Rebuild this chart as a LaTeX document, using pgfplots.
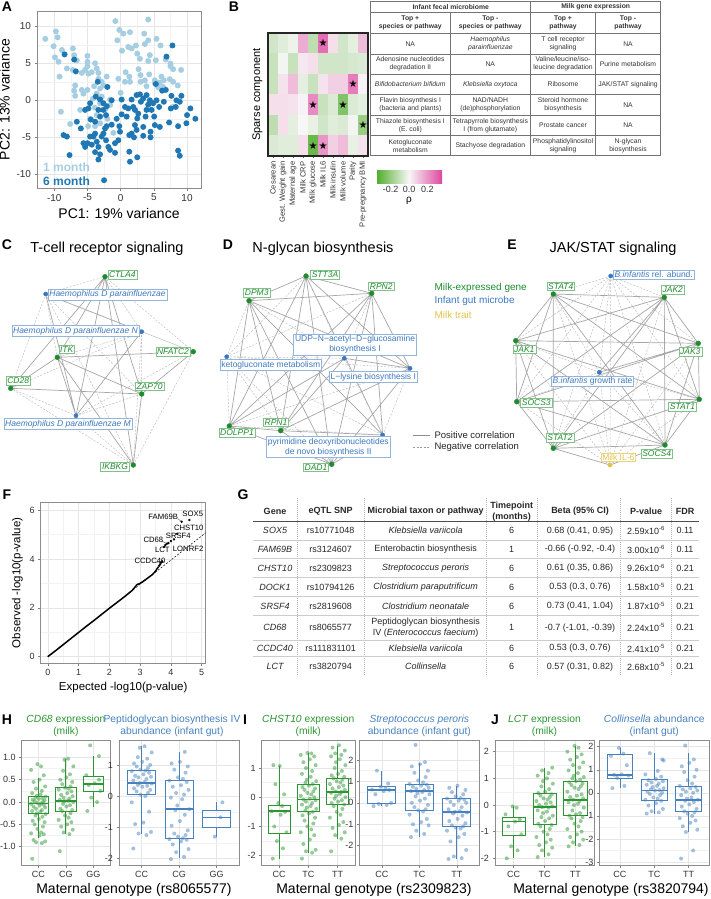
\documentclass[border=0pt]{standalone}
\usepackage{pgfplots}
\pgfplotsset{compat=1.18}
\usepgfplotslibrary{statistics}
\usetikzlibrary{calc}
\usepackage{fontspec}
\setmainfont{Liberation Sans}
\newfontfamily\dejavu{DejaVu Sans}
\pgfkeys{/pgf/number format/assume math mode=true}
\newcommand{\fs}[1]{\fontsize{#1}{\fpeval{1.2*#1}}\selectfont}
\definecolor{lb}{RGB}{166,206,227}
\definecolor{db}{RGB}{31,120,180}
\definecolor{gr}{RGB}{45,150,50}
\definecolor{bl}{RGB}{72,130,190}
\definecolor{yl}{RGB}{225,195,70}
\definecolor{ng}{RGB}{30,140,45}
\definecolor{nb}{RGB}{60,120,190}
\pgfplotsset{
  gg/.style={scale only axis, axis line style={black!45, line width=0.6pt}, tick align=outside, tick pos=left,
    major tick length=2.5pt, minor tick length=0pt, tick style={black!50, line width=0.5pt},
    major grid style={black!10, line width=0.5pt}, minor grid style={black!5, line width=0.4pt},
    ticklabel style={font=\fs{9}, text=black!80}, label style={font=\fs{14}}},
  ggbox/.style={solid, line width=0.8pt, boxplot/draw direction=y, boxplot/box extend=0.75, boxplot/whisker extend=0, boxplot/every median/.style={line width=1.6pt}},
  gpts/.style={only marks, mark=*, mark size=2pt, color=gr, mark options={solid, draw=gr, draw opacity=0, fill=gr, fill opacity=0.5}},
  bpts/.style={only marks, mark=*, mark size=2pt, color=bl, mark options={solid, draw=bl, draw opacity=0, fill=bl, fill opacity=0.5}},
  onedec/.style={yticklabel style={/pgf/number format/fixed, /pgf/number format/fixed zerofill, /pgf/number format/precision=1}},
}
\newcommand{\glab}[3]{\node[draw=ng!55, fill=white, text=ng, font=\itshape\fs{8.5}, inner sep=1.3pt, line width=0.5pt] at (#1,#2) {#3};}
\newcommand{\blab}[3]{\node[draw=nb!55, fill=white, text=nb, font=\fs{8.5}, inner sep=1.3pt, line width=0.5pt, align=center] at (#1,#2) {#3};}
\newcommand{\grow}[8]{%
 \node[font=\itshape\fs{9}] at (275,#1) {#2};
 \node[font=\fs{9}] at (330.7,#1) {#3};
 \node[font=\fs{9}, align=center] at (425.7,#1) {#4};
 \node[font=\fs{9}] at (511.7,#1) {#5};
 \node[font=\fs{9}] at (580,#1) {#6};
 \node[font=\fs{9}] at (646,#1) {#7};
 \node[font=\fs{9}] at (685,#1) {#8};}
\newcommand{\brow}[5]{%
 \node[font=\fs{6.8}, align=center] at (410.3,#1) {#2};
 \node[font=\fs{6.8}, align=center] at (490.3,#1) {#3};
 \node[font=\fs{6.8}, align=center] at (563,#1) {#4};
 \node[font=\fs{6.8}, align=center] at (628,#1) {#5};}
\begin{document}
\begin{tikzpicture}
\useasboundingbox (0,0) rectangle (710pt,-899pt);

% ================= canvas axis for networks =================
\begin{axis}[at={(0pt,0pt)}, anchor=north west, width=710pt, height=899pt, scale only axis,
  xmin=0, xmax=710, ymin=0, ymax=899, y dir=reverse, hide axis, clip=false]
% C solid
\addplot[black!35, line width=0.7pt, unbounded coords=jump] coordinates {
(105,276.7) (57.3,357.3) (nan,nan) (105,276.7) (10.7,388.3) (nan,nan) (105,276.7) (141.7,394) (nan,nan)
(105,276.7) (76,415.7) (nan,nan) (45.7,294) (141.7,331.7) (nan,nan) (45.7,294) (76,415.7) (nan,nan)
(141.7,331.7) (76,415.7) (nan,nan) (57.3,357.3) (10.7,388.3) (nan,nan) (57.3,357.3) (141.7,394) (nan,nan)
(10.7,388.3) (141.7,394) (nan,nan) (57.3,357.3) (193.3,351.7) (nan,nan) (193.3,351.7) (141.7,394) (nan,nan)
(57.3,357.3) (76,415.7) (nan,nan) (57.3,357.3) (133.3,465) (nan,nan) (141.7,394) (133.3,465) (nan,nan)
(105,276.7) (133.3,465)};
% C dashed
\addplot[black!25, line width=0.5pt, dash pattern=on 2pt off 1.5pt, unbounded coords=jump] coordinates {
(45.7,294) (57.3,357.3) (nan,nan) (45.7,294) (193.3,351.7) (nan,nan) (45.7,294) (10.7,388.3) (nan,nan)
(45.7,294) (141.7,394) (nan,nan) (141.7,331.7) (57.3,357.3) (nan,nan) (141.7,331.7) (10.7,388.3) (nan,nan)
(141.7,331.7) (193.3,351.7) (nan,nan) (141.7,331.7) (133.3,465) (nan,nan) (76,415.7) (193.3,351.7) (nan,nan)
(76,415.7) (133.3,465) (nan,nan) (76,415.7) (10.7,388.3) (nan,nan) (76,415.7) (141.7,394) (nan,nan)
(105,276.7) (193.3,351.7) (nan,nan) (105,276.7) (141.7,331.7) (nan,nan) (105,276.7) (45.7,294) (nan,nan)
(45.7,294) (133.3,465) (nan,nan) (10.7,388.3) (133.3,465) (nan,nan) (193.3,351.7) (133.3,465) (nan,nan)
(141.7,331.7) (141.7,394)};
% D solid
\addplot[black!35, line width=0.7pt, unbounded coords=jump] coordinates {
(306,276) (371.7,293.3) (nan,nan) (306,276) (249,300.7) (nan,nan) (306,276) (280.7,430.7) (nan,nan)
(306,276) (229.3,426) (nan,nan) (306,276) (331.7,464.3) (nan,nan) (306,276) (410,368.3) (nan,nan)
(306,276) (382.7,435) (nan,nan) (371.7,293.3) (249,300.7) (nan,nan) (371.7,293.3) (280.7,430.7) (nan,nan)
(371.7,293.3) (229.3,426) (nan,nan) (371.7,293.3) (331.7,464.3) (nan,nan) (371.7,293.3) (382.7,435) (nan,nan)
(371.7,293.3) (410,368.3) (nan,nan) (249,300.7) (280.7,430.7) (nan,nan) (249,300.7) (229.3,426) (nan,nan)
(249,300.7) (331.7,464.3) (nan,nan) (249,300.7) (410,368.3) (nan,nan) (249,300.7) (382.7,435) (nan,nan)
(280.7,430.7) (331.7,464.3) (nan,nan) (280.7,430.7) (229.3,426) (nan,nan) (229.3,426) (331.7,464.3) (nan,nan)
(344.3,358.3) (410,368.3) (nan,nan) (344.3,358.3) (280.7,430.7) (nan,nan) (344.3,358.3) (229.3,426) (nan,nan)
(410,368.3) (331.7,464.3) (nan,nan) (382.7,435) (331.7,464.3) (nan,nan) (280.7,430.7) (382.7,435) (nan,nan)
(410,368.3) (280.7,430.7)};
% D dashed
\addplot[black!25, line width=0.5pt, dash pattern=on 2pt off 1.5pt, unbounded coords=jump] coordinates {
(226.7,356.7) (306,276) (nan,nan) (226.7,356.7) (371.7,293.3) (nan,nan) (226.7,356.7) (249,300.7) (nan,nan)
(226.7,356.7) (410,368.3) (nan,nan) (226.7,356.7) (344.3,358.3) (nan,nan) (226.7,356.7) (382.7,435) (nan,nan)
(226.7,356.7) (331.7,464.3) (nan,nan) (226.7,356.7) (280.7,430.7) (nan,nan) (344.3,358.3) (306,276) (nan,nan)
(344.3,358.3) (371.7,293.3) (nan,nan) (344.3,358.3) (249,300.7) (nan,nan) (382.7,435) (344.3,358.3) (nan,nan)
(410,368.3) (382.7,435) (nan,nan) (229.3,426) (410,368.3) (nan,nan) (229.3,426) (382.7,435) (nan,nan)
(226.7,356.7) (229.3,426)};
% E solid
\addplot[black!35, line width=0.7pt, unbounded coords=jump] coordinates {
(553.3,294) (664.3,297.3) (nan,nan) (553.3,294) (515.7,340.7) (nan,nan) (553.3,294) (698.3,343.3) (nan,nan)
(553.3,294) (516.7,401.7) (nan,nan) (553.3,294) (699.3,399.3) (nan,nan) (553.3,294) (553.3,448.3) (nan,nan)
(553.3,294) (665,445) (nan,nan) (664.3,297.3) (515.7,340.7) (nan,nan) (664.3,297.3) (698.3,343.3) (nan,nan)
(664.3,297.3) (516.7,401.7) (nan,nan) (664.3,297.3) (699.3,399.3) (nan,nan) (664.3,297.3) (553.3,448.3) (nan,nan)
(664.3,297.3) (665,445) (nan,nan) (515.7,340.7) (698.3,343.3) (nan,nan) (515.7,340.7) (516.7,401.7) (nan,nan)
(515.7,340.7) (699.3,399.3) (nan,nan) (515.7,340.7) (553.3,448.3) (nan,nan) (515.7,340.7) (665,445) (nan,nan)
(698.3,343.3) (516.7,401.7) (nan,nan) (698.3,343.3) (699.3,399.3) (nan,nan) (698.3,343.3) (553.3,448.3) (nan,nan)
(698.3,343.3) (665,445) (nan,nan) (516.7,401.7) (699.3,399.3) (nan,nan) (516.7,401.7) (553.3,448.3) (nan,nan)
(516.7,401.7) (665,445) (nan,nan) (699.3,399.3) (553.3,448.3) (nan,nan) (699.3,399.3) (665,445) (nan,nan)
(553.3,448.3) (665,445) (nan,nan) (599.3,372.3) (664.3,297.3) (nan,nan) (599.3,372.3) (698.3,343.3) (nan,nan)
(610,465) (553.3,448.3) (nan,nan) (610,465) (665,445)};
% E dashed
\addplot[black!25, line width=0.5pt, dash pattern=on 2pt off 1.5pt, unbounded coords=jump] coordinates {
(610.7,276) (553.3,294) (nan,nan) (610.7,276) (664.3,297.3) (nan,nan) (610.7,276) (515.7,340.7) (nan,nan)
(610.7,276) (698.3,343.3) (nan,nan) (610.7,276) (516.7,401.7) (nan,nan) (610.7,276) (699.3,399.3) (nan,nan)
(610.7,276) (553.3,448.3) (nan,nan) (610.7,276) (665,445) (nan,nan) (610.7,276) (599.3,372.3) (nan,nan)
(610.7,276) (610,465) (nan,nan) (599.3,372.3) (553.3,294) (nan,nan) (599.3,372.3) (515.7,340.7) (nan,nan)
(599.3,372.3) (516.7,401.7) (nan,nan) (599.3,372.3) (699.3,399.3) (nan,nan) (599.3,372.3) (553.3,448.3) (nan,nan)
(599.3,372.3) (665,445) (nan,nan) (599.3,372.3) (610,465) (nan,nan) (610,465) (553.3,294) (nan,nan)
(610,465) (664.3,297.3) (nan,nan) (610,465) (515.7,340.7) (nan,nan) (610,465) (698.3,343.3) (nan,nan)
(610,465) (516.7,401.7) (nan,nan) (610,465) (699.3,399.3)};
% legend lines
\addplot[black!45, line width=0.7pt] coordinates {(413,435) (430,435)};
\addplot[black!40, line width=0.5pt, dash pattern=on 2pt off 1.5pt] coordinates {(413,447.5) (430,447.5)};
% nodes
\addplot[only marks, mark=*, mark size=2.4pt, ng] coordinates {
(105,276.7) (57.3,357.3) (193.3,351.7) (10.7,388.3) (141.7,394) (133.3,465)
(306,276) (371.7,293.3) (249,300.7) (280.7,430.7) (229.3,426) (331.7,464.3)
(553.3,294) (664.3,297.3) (515.7,340.7) (698.3,343.3) (516.7,401.7) (699.3,399.3) (553.3,448.3) (665,445)};
\addplot[only marks, mark=*, mark size=2.1pt, nb] coordinates {
(45.7,294) (141.7,331.7) (76,415.7) (344.3,358.3) (410,368.3) (226.7,356.7) (382.7,435) (610.7,276) (599.3,372.3)};
\addplot[only marks, mark=*, mark size=2.1pt, yl] coordinates {(610,465)};
\end{axis}

% ================= plain text layer =================
\begin{scope}[x=1pt, y=-1pt]
% panel letters
\foreach \l/\px/\py in {A/7/7, B/234/7, C/7/245, D/228/245, E/512/245, F/7/495, G/243/495, H/7/720, I/245/720, J/495/720}
  \node[font=\bfseries\fs{14}] at (\px,\py) {\l};
% network titles
\node[font=\fs{14.5}] at (107,249) {T-cell receptor signaling};
\node[font=\fs{14.5}] at (323,249) {N-glycan biosynthesis};
\node[font=\fs{14.5}] at (613,249) {JAK/STAT signaling};
% network labels C
\glab{122.3}{274.7}{CTLA4}
\blab{107.5}{294.7}{\itshape Haemophilus D parainfluenzae}
\blab{75.5}{330.8}{\itshape Haemophilus D parainfluenzae N}
\glab{66.7}{349.3}{ITK}
\glab{173}{352}{NFATC2}
\glab{18.2}{380.7}{CD28}
\glab{149.5}{386.2}{ZAP70}
\blab{68}{424}{\itshape Haemophilus D parainfluenzae M}
\glab{115}{466.7}{IKBKG}
% D
\glab{325}{274.5}{STT3A}
\glab{381.2}{286.2}{RPN2}
\glab{256.7}{293}{DPM3}
\blab{355}{344.5}{UDP−N−acetyl−D−glucosamine\\biosynthesis I}
\blab{270.8}{365}{ketogluconate metabolism}
\blab{373.3}{377}{L−lysine biosynthesis I}
\glab{276}{422.5}{RPN1}
\glab{237}{433}{DOLPP1}
\blab{328.3}{447}{pyrimidine deoxyribonucleotides\\de novo biosynthesis II}
\glab{316}{467.2}{DAD1}
% E
\blab{653.7}{274.5}{\itshape B.infantis\upshape{} rel. abund.}
\glab{560.7}{286.2}{STAT4}
\glab{672.8}{289.8}{JAK2}
\glab{524.3}{349.2}{JAK1}
\glab{690.3}{352}{JAK3}
\blab{592.5}{381.2}{\itshape B.infantis\upshape{} growth rate}
\glab{536.3}{402.8}{SOCS3}
\glab{682.5}{406.8}{STAT1}
\glab{560}{437.5}{STAT2}
\glab{656.7}{453.8}{SOCS4}
\node[draw=yl!70, fill=white, text=yl, font=\fs{8.5}, inner sep=1.3pt, line width=0.5pt] at (618.3,457.2) {Milk IL-6};
% network legend
\node[anchor=west, text=ng, font=\fs{10}] at (431,287.7) {Milk-expressed gene};
\node[anchor=west, text=nb, font=\fs{10}] at (431,301) {Infant gut microbe};
\node[anchor=west, text=yl, font=\fs{10}] at (431,315) {Milk trait};
\node[anchor=west, font=\fs{9.5}, text=black!85] at (431,435) {Positive correlation};
\node[anchor=west, font=\fs{9.5}, text=black!85] at (431,447.5) {Negative correlation};

% ---------- table B ----------
\begin{scope}[black!55, line width=0.5pt]
\draw (370.7,1.7) rectangle (660.7,155.7);
\draw (370.7,12.3) -- (660.7,12.3);
\foreach \yy in {33.3,54,74,94.7,115.3,135.7} \draw (370.7,\yy) -- (660.7,\yy);
\draw (450,12.3) -- (450,155.7);
\draw (530.7,1.7) -- (530.7,155.7);
\draw (595.3,12.3) -- (595.3,155.7);
\end{scope}
\begin{scope}[text=black!80]
\node[font=\bfseries\fs{6.8}] at (450.7,7) {Infant fecal microbiome};
\node[font=\bfseries\fs{6.8}] at (595.7,7) {Milk gene expression};
\brow{22.8}{\bfseries Top +\\\bfseries species or pathway}{\bfseries Top -\\\bfseries species or pathway}{\bfseries Top +\\\bfseries pathway}{\bfseries Top -\\\bfseries pathway}
\brow{43.7}{NA}{\itshape Haemophilus\\\itshape parainfluenzae}{T cell receptor\\signaling}{NA}
\brow{64}{Adenosine nucleotides\\degradation II}{NA}{Valine/leucine/iso-\\leucine degradation}{Purine metabolism}
\brow{84.3}{\itshape Bifidobacterium bifidum}{\itshape Klebsiella oxytoca}{Ribosome}{JAK/STAT signaling}
\brow{105}{Flavin biosynthesis I\\(bacteria and plants)}{NAD/NADH\\(de)phosphorylation}{Steroid hormone\\biosynthesis}{NA}
\brow{125.5}{Thiazole biosynthesis I\\(E. coli)}{Tetrapyrrole biosynthesis\\I (from glutamate)}{Prostate cancer}{NA}
\brow{145.7}{Ketogluconate\\metabolism}{Stachyose degradation}{Phosphatidylinositol\\signaling}{N-glycan\\biosynthesis}
\end{scope}

% ---------- table G ----------
\foreach \xx in {297.3,364.3,486.7,537.7,620,671.7}
  \draw[black!30, line width=0.5pt, dash pattern=on 1pt off 1pt] (\xx,498) -- (\xx,676);
\foreach \yy in {540,558.3,577.3,596,615.7,640,656.7}
  \draw[black!20, line width=0.5pt] (253.3,\yy) -- (699.3,\yy);
\draw[black!70, line width=0.8pt] (253.3,521) -- (699.3,521);
\begin{scope}[text=black!85]
\node[font=\bfseries\fs{9}] at (275,511) {Gene};
\node[font=\bfseries\fs{9}] at (330.7,511) {eQTL SNP};
\node[font=\bfseries\fs{9}] at (425.7,511) {Microbial taxon or pathway};
\node[font=\bfseries\fs{9}, align=center, inner sep=0pt] at (511.7,511.5) {Timepoint\\(months)};
\node[font=\bfseries\fs{9}] at (580,511) {Beta (95\% CI)};
\node[font=\bfseries\fs{9}] at (646,511) {P-value};
\node[font=\bfseries\fs{9}] at (685,511) {FDR};
\grow{530.7}{SOX5}{rs10771048}{\itshape Klebsiella variicola}{6}{0.68 (0.41, 0.95)}{2.59x10\textsuperscript{-6}}{0.11}
\grow{549.2}{FAM69B}{rs3124607}{Enterobactin biosynthesis}{1}{-0.66 (-0.92, -0.4)}{3.00x10\textsuperscript{-6}}{0.11}
\grow{568}{CHST10}{rs2309823}{\itshape Streptococcus peroris}{6}{0.61 (0.35, 0.86)}{9.26x10\textsuperscript{-6}}{0.21}
\grow{587}{DOCK1}{rs10794126}{\itshape Clostridium paraputrificum}{6}{0.53 (0.3, 0.76)}{1.58x10\textsuperscript{-5}}{0.21}
\grow{606}{SRSF4}{rs2819608}{\itshape Clostridium neonatale}{6}{0.73 (0.41, 1.04)}{1.87x10\textsuperscript{-5}}{0.21}
\grow{627.7}{CD68}{rs8065577}{Peptidoglycan biosynthesis\\IV (\textit{Enterococcus faecium})}{1}{-0.7 (-1.01, -0.39)}{2.24x10\textsuperscript{-5}}{0.21}
\grow{648.3}{CCDC40}{rs111831101}{\itshape Klebsiella variicola}{6}{0.53 (0.3, 0.76)}{2.41x10\textsuperscript{-5}}{0.21}
\grow{666.7}{LCT}{rs3820794}{\itshape Collinsella}{6}{0.57 (0.31, 0.82)}{2.68x10\textsuperscript{-5}}{0.21}
\end{scope}

% ---------- H I J titles ----------
\node[text=gr, font=\fs{10.3}, align=center] at (65.9,726) {\textit{CD68} expression\\(milk)};
\node[text=bl, font=\fs{10.3}, align=center] at (172,726) {Peptidoglycan biosynthesis IV\\abundance (infant gut)};
\node[text=gr, font=\fs{10.3}, align=center] at (308.3,726) {\textit{CHST10} expression\\(milk)};
\node[text=bl, font=\fs{10.3}, align=center] at (419.3,726) {\textit{Streptococcus peroris}\\abundance (infant gut)};
\node[text=gr, font=\fs{10.3}, align=center] at (544.5,726) {\textit{LCT} expression\\(milk)};
\node[text=bl, font=\fs{10.3}, align=center] at (654.3,726) {\textit{Collinsella} abundance\\(infant gut)};
\node[font=\fs{14}] at (134,890) {Maternal genotype (rs8065577)};
\node[font=\fs{14}] at (374,890) {Maternal genotype (rs2309823)};
\node[font=\fs{14}] at (611,890) {Maternal genotype (rs3820794)};
\end{scope}

% ================= Panel A =================
\begin{axis}[gg, at={(37pt,-188pt)}, anchor=south west, width=164pt, height=177pt,
  xmin=-12.6, xmax=12.1, ymin=-11.85, ymax=12.06,
  xtick={-10,-5,0,5,10}, ytick={-10,-5,0,5,10}, minor tick num=1, grid=both,
  ticklabel style={font=\fs{10}},
  xlabel={PC1: 19\% variance}, ylabel={PC2: 13\% variance}]
\addplot[only marks, mark=*, mark size=3pt, color=lb, mark options={solid, draw=lb, draw opacity=0, fill=lb}] coordinates {
(-11.35,8.3) (-9.75,9.3) (-9.5,8.5) (-10.1,7.3) (-8.85,6.8) (-9.9,5.8) (-9.35,5.2) (-9.2,3.2) (-8.1,4.3)
(-7.2,7.0) (-7.0,6.1) (-7.2,4.1) (-6.6,5.4) (-5.85,3.7) (-5,6) (-5,5.2) (-5,4.6) (-5.35,4.1) (-4.85,3.6)
(-3.85,5) (-3.6,4.3) (-4.35,3.8) (-3.35,3.7) (-3.35,2.9) (-2.1,3.2) (-2.85,2.5) (-2.6,2.0) (-6.85,2.0)
(-7.0,1.3) (-6.85,0.6) (-5.85,1.4) (-5.0,1.4) (-5.6,0.9) (-4,1.9) (-3.6,0.9) (-3.1,1.6) (-2.85,0.5)
(-1.6,0.1) (-1.6,-0.65) (-3.1,-0.4) (-3.6,-2.0) (-4.6,-2.5) (-3.1,-3.1) (-7.6,-3.2) (-9.0,-1.55)
(-6.1,-1.3) (-3.85,-3.5) (-1.1,-4.4) (-0.8,10.7) (-0.5,8.1) (-0.2,9.5) (0.4,9.0) (1.4,9.2) (0.2,6.7)
(1.15,7.2) (1.65,7.0) (2.3,7.4) (3.65,7.6) (2.5,6.3) (2.9,5.6) (4.4,6.1) (4.15,5.3) (2.7,4.2) (0.75,3.8)
(1.3,3.2) (1.4,2.5) (0.65,2.5) (0,1.0) (3.55,9.0) (4.15,10.9) (4.15,8.1) (5.4,8.3) (3.65,2.7) (3.0,2.5)
(4.3,3.5) (5.15,2.3) (3.9,1.9) (5.9,2.4) (6.4,1.8) (5.65,1.75) (7.5,4.6) (6.8,5.5) (7.5,4.95) (7.9,4.2)
(6.15,3.2) (6.5,2.7) (7.4,2.85) (7.9,2.5) (7.9,-0.9) (5.15,2.7) (3.0,3.4) (-0.35,2.9) (-2.3,-1.2)
(-3.9,-1.0) (-4.2,0.2) (-2.0,-2.5) (-4.9,-3.5) (8.6,2.0) (9.1,4.1) (6.0,7.4) (5.3,5.4)};
\addplot[only marks, mark=*, mark size=3pt, color=db, mark options={solid, draw=db, draw opacity=0, fill=db}] coordinates {
(-8.45,6.2) (-7.0,5.5) (-6.75,3.9) (-3.45,2.5) (-2.0,1.8) (-3.75,0.5) (-3.1,0.1) (-2.6,-0.4) (-2.1,-0.8)
(-1.35,0.0) (-4.6,-0.4) (-4.85,-1.1) (-5.35,-1.3) (-6.6,-2.9) (-6.0,-3.8) (-8.6,-4.7) (-8.1,-4.9)
(-7.7,-7.4) (-5.6,-5.8) (-5.35,-6.3) (-5.0,-5.8) (-4.6,-4.9) (-4.35,-6.0) (-3.85,-4.5) (-3.6,-5.6)
(-4.1,-4.9) (-3.35,-6.3) (-3.1,-7.3) (-3.35,-8.0) (-3.85,-7.0) (-2.85,-4.9) (-2.6,-4.5) (-2.35,-3.8)
(-2.2,-5.4) (-1.85,-6.3) (-1.6,-6.7) (-0.85,-7.1) (-0.85,-5.8) (-0.35,-5.4) (-1.35,-3.3) (-2.1,-3.5)
(-0.6,-2.5) (-0.2,-3.5) (-3.85,-2.9) (-4.5,-2.6) (-2.6,-1.3) (-2.2,-2.0) (-3.35,-1.3) (-3.1,-2.2)
(-2.5,-10.8) (0.15,0.1) (0.65,-0.9) (1.15,-1.1) (1.65,0.1) (2.15,-1.3) (2.4,0.7) (2.9,0.8) (3.4,0.25)
(3.9,0.7) (3.05,-0.2) (4.4,0.0) (4.9,-0.4) (5.4,0.0) (5.8,-0.9) (6.5,-0.2) (6.25,1.3) (5.3,2.2) (6.8,1.4)
(7.65,0.6) (7.55,-1.1) (8.3,-0.9) (8.9,-0.2) (9.15,0.6) (8.4,0.0) (7.8,7.4) (6.9,5.9) (7.3,-3.0)
(8.65,-3.5) (8.65,-6.8) (8.9,-7.5) (10.0,-2.0) (10.5,-1.1) (9.9,-3.1) (11.25,-2.5) (5.9,-3.6) (5.15,-3.35)
(4.5,-4.25) (4.5,-5.0) (3.4,-4.8) (3.4,-3.6) (3.75,-2.2) (2.5,-2.45) (2.15,-3.35) (1.65,-4.5) (1.3,-4.7)
(2.0,-5.0) (2.4,-4.0) (1.3,-6.95) (2.5,-7.7) (1.4,-8.3) (0.9,-2.2) (0.15,-1.9) (4.15,-0.6) (4.65,-1.3)
(5.05,-2.2) (3.9,-1.3) (1.9,-0.9) (2.65,-1.8) (-0.1,-4.25)};
\node[anchor=west, text=lb, font=\bfseries\fs{12}] at (axis cs:-12.2,-9.1) {1 month};
\node[anchor=west, text=db, font=\bfseries\fs{12}] at (axis cs:-12.2,-10.9) {6 month};
\end{axis}

% ================= Panel B heatmap =================
\begin{axis}[scale only axis, at={(268pt,-156pt)}, anchor=south west, width=100pt, height=123pt,
  xmin=-0.5, xmax=9.5, ymin=-0.5, ymax=5.5, y dir=reverse, enlargelimits=false,
  axis line style={black!85, line width=1.3pt}, axis on top,
  xtick={0,...,9}, xticklabels={Cesarean, Gest. Weight gain, Maternal age, Milk CRP, Milk glucose, Milk IL6, Milk insulin, Milk volume, Parity, Pre-pregnancy BMI},
  x tick label style={rotate=90, anchor=east, font=\fs{7.6}, text=black!80},
  ytick=\empty, tick align=outside, tick pos=left, major tick length=2pt, tick style={black!60, line width=0.5pt},
  ylabel={Sparse component}, ylabel style={font=\fs{11}},
  colormap={pg}{rgb255=(77,172,38) rgb255=(247,247,247) rgb255=(222,70,160)},
  point meta min=-0.36, point meta max=0.36,
  colorbar horizontal,
  colorbar style={at={($(parent axis.south east)+(8pt,-5.5pt)$)}, anchor=north west, width=66pt, height=13pt, scale only axis,
    xtick={-0.2,0,0.2}, xticklabel style={font=\fs{9}, text=black!80, /pgf/number format/fixed, /pgf/number format/fixed zerofill, /pgf/number format/precision=1},
    xlabel={ρ}, xlabel style={font=\fs{10}, yshift=3pt}, axis line style={draw=none}, xtick style={draw=none}}]
\addplot[matrix plot*, mesh/cols=10, point meta=explicit] table[meta=c] {
x y c
0 0 -0.08
1 0 -0.05
2 0 -0.02
3 0 0.15
4 0 -0.12
5 0 0.28
6 0 0.05
7 0 -0.08
8 0 -0.04
9 0 0.12
0 1 -0.10
1 1 -0.01
2 1 -0.10
3 1 0.03
4 1 0.05
5 1 -0.08
6 1 -0.08
7 1 -0.08
8 1 -0.07
9 1 -0.06
0 2 -0.10
1 2 0.04
2 2 0.12
3 2 -0.04
4 2 -0.10
5 2 0.04
6 2 0.08
7 2 0.08
8 2 0.25
9 2 0.01
0 3 0.05
1 3 0.05
2 3 0.04
3 3 0.01
4 3 0.22
5 3 -0.10
6 3 -0.06
7 3 -0.25
8 3 -0.06
9 3 -0.04
0 4 -0.12
1 4 0.05
2 4 -0.04
3 4 0.00
4 4 -0.03
5 4 -0.08
6 4 -0.05
7 4 -0.06
8 4 -0.01
9 4 -0.20
0 5 -0.06
1 5 -0.05
2 5 -0.05
3 5 0.05
4 5 -0.30
5 5 0.20
6 5 0.08
7 5 0.12
8 5 -0.03
9 5 0.04
};
\addplot[only marks, mark=none, nodes near coords={\dejavu ★}, nodes near coords align=center,
  every node near coord/.style={font=\fs{10}, anchor=center, text=black}] coordinates {
(5,0) (8,2) (4,3) (7,3) (9,4) (4,5) (5,5)};
\end{axis}

% ================= Panel F =================
\begin{axis}[gg, at={(40.7pt,-663pt)}, anchor=south west, width=165pt, height=160.3pt,
  xmin=-0.23, xmax=5.13, ymin=-0.26, ymax=6.3, xtick={0,...,5}, ytick={0,2,4,6},
  minor tick num=1, grid=both, label style={font=\fs{11.5}},
  xlabel={Expected -log10(p-value)}, ylabel={Observed -log10(p-value)}]
\addplot[black, line width=0.5pt, dash pattern=on 2pt off 1.5pt] coordinates {(0,0) (5.13,5.07)};
\addplot[black, line width=1.5pt] coordinates {
(0,0) (0.25,0.24) (0.5,0.49) (0.75,0.74) (1,0.99) (1.25,1.24) (1.5,1.48) (1.75,1.73) (2,1.98)
(2.25,2.22) (2.5,2.46) (2.75,2.72) (2.9,2.95) (3,3.0) (3.1,3.08) (3.25,3.22) (3.4,3.36) (3.5,3.5)
(3.55,3.6) (3.6,3.68)};
\addplot[only marks, mark=*, mark size=1pt, black] coordinates {
(3.62,3.72) (3.65,3.78) (3.68,3.85) (3.72,3.9) (3.78,4.5) (3.82,4.57) (3.87,4.62) (3.92,4.65)
(4.0,4.73) (4.1,4.80) (4.2,5.03) (4.35,5.52) (4.6,5.59)};
\addplot[black!70, line width=0.4pt, unbounded coords=jump] coordinates {
(4.22,5.65) (4.33,5.54) (nan,nan) (3.68,4.74) (3.85,4.64) (nan,nan) (3.76,4.45) (3.82,4.56) (nan,nan) (3.52,3.86) (3.7,3.88)};
\foreach \t/\a/\b in {FAM69B/3.75/5.71, SOX5/4.71/5.85, CHST10/4.58/5.29, SRSF4/4.24/4.95, CD68/3.43/4.78, LCT/3.72/4.37, LONRF2/4.56/4.40, CCDC40/3.32/3.92}
  {\edef\tmp{\noexpand\node[font=\noexpand\fs{7.7}, inner sep=0.5pt] at (axis cs:\a,\b) {\t};}\tmp}
\end{axis}

% ================= Panel H =================
\begin{axis}[gg, onedec, at={(21.7pt,-865pt)}, anchor=south west, width=88.3pt, height=125pt,
  xmin=0.4, xmax=3.6, ymin=-1.41, ymax=1.39, xtick={1,2,3}, xticklabels={CC,CG,GG},
  ytick={-1,-0.5,0,0.5,1}, xmajorgrids, ymajorgrids, yminorgrids, minor y tick num=1]
\addplot[ggbox, draw=gr, boxplot prepared={draw position=1, lower whisker=-0.8, lower quartile=-0.25, median=-0.03, upper quartile=0.12, upper whisker=0.55}] coordinates {};
\addplot[ggbox, draw=gr, boxplot prepared={draw position=2, lower whisker=-0.72, lower quartile=-0.2, median=0.03, upper quartile=0.32, upper whisker=0.97}] coordinates {};
\addplot[ggbox, draw=gr, boxplot prepared={draw position=3, lower whisker=-0.1, lower quartile=0.23, median=0.4, upper quartile=0.57, upper whisker=1.03}] coordinates {};
\addplot[gpts] table[x expr=\thisrow{j}+1, y=y, row sep=\\] {j y\\
-0.22 -1.27\\ 0.13 -0.92\\ -0.08 -0.90\\ 0.25 -0.88\\ -0.17 -0.85\\ 0.05 -0.75\\ 0.20 -0.72\\ -0.26 -0.70\\ 0.10 -0.68\\ -0.03 -0.60\\
0.17 -0.55\\ -0.13 -0.50\\ 0.23 -0.45\\ -0.20 -0.42\\ 0.02 -0.38\\ 0.15 -0.33\\ -0.10 -0.30\\ 0.27 -0.27\\ -0.05 -0.25\\ 0.08 -0.22\\
-0.22 -0.20\\ 0.13 -0.18\\ -0.08 -0.15\\ 0.25 -0.12\\ -0.17 -0.10\\ 0.05 -0.08\\ 0.20 -0.06\\ -0.26 -0.04\\ 0.10 -0.03\\ -0.03 -0.02\\
0.17 0.00\\ -0.13 0.02\\ 0.23 0.04\\ -0.20 0.05\\ 0.02 0.07\\ 0.15 0.09\\ -0.10 0.10\\ 0.27 0.12\\ -0.05 0.14\\ 0.08 0.17\\
-0.22 0.20\\ 0.13 0.25\\ -0.08 0.30\\ 0.25 0.35\\ -0.17 0.45\\ 0.05 0.50\\ 0.20 0.60\\ -0.26 0.72\\ 0.10 0.80\\ -0.03 0.85\\};
\addplot[gpts] table[x expr=\thisrow{j}+2, y=y, row sep=\\] {j y\\
-0.22 -1.10\\ 0.13 -0.72\\ -0.08 -0.68\\ 0.25 -0.62\\ -0.17 -0.55\\ 0.05 -0.50\\ 0.20 -0.45\\ -0.26 -0.40\\ 0.10 -0.35\\ -0.03 -0.30\\
0.17 -0.25\\ -0.13 -0.20\\ 0.23 -0.18\\ -0.20 -0.15\\ 0.02 -0.10\\ 0.15 -0.07\\ -0.10 -0.04\\ 0.27 0.00\\ -0.05 0.02\\ 0.08 0.03\\
-0.22 0.05\\ 0.13 0.08\\ -0.08 0.10\\ 0.25 0.13\\ -0.17 0.16\\ 0.05 0.20\\ 0.20 0.24\\ -0.26 0.28\\ 0.10 0.30\\ -0.03 0.32\\
0.17 0.35\\ -0.13 0.40\\ 0.23 0.45\\ -0.20 0.50\\ 0.02 0.55\\ 0.15 0.62\\ -0.10 0.70\\ 0.27 0.80\\ -0.05 0.95\\ 0.08 0.97\\};
\addplot[gpts] table[x expr=\thisrow{j}+3, y=y, row sep=\\] {j y\\
-0.22 -0.20\\ 0.13 0.00\\ -0.08 0.10\\ 0.25 0.25\\ -0.17 0.38\\ 0.05 0.42\\ 0.20 0.50\\ -0.26 0.60\\ 0.20 1.03\\ -0.12 1.27\\};
\end{axis}
\begin{axis}[gg, at={(119pt,-865pt)}, anchor=south west, width=120.3pt, height=125pt,
  xmin=0.4, xmax=3.6, ymin=-2.21, ymax=1.8, xtick={1,2,3}, xticklabels={CC,CG,GG},
  ytick={-2,-1,0,1}, xmajorgrids, ymajorgrids, yminorgrids, minor y tick num=1]
\addplot[ggbox, draw=bl, boxplot prepared={draw position=1, lower whisker=-1.2, lower quartile=0.05, median=0.42, upper quartile=0.82, upper whisker=1.6}] coordinates {};
\addplot[ggbox, draw=bl, boxplot prepared={draw position=2, lower whisker=-2.0, lower quartile=-1.37, median=-0.42, upper quartile=0.5, upper whisker=1.42}] coordinates {};
\addplot[ggbox, draw=bl, boxplot prepared={draw position=3, lower whisker=-1.3, lower quartile=-1.0, median=-0.68, upper quartile=-0.45, upper whisker=-0.2}] coordinates {};
\addplot[bpts] table[x expr=\thisrow{j}+1, y=y, row sep=\\] {j y\\
-0.22 -1.68\\ 0.13 -1.25\\ -0.08 -1.20\\ 0.25 -1.15\\ -0.17 -0.90\\ 0.05 -0.85\\ 0.20 -0.50\\ -0.26 -0.20\\ 0.10 0.00\\ -0.03 0.05\\
0.17 0.10\\ -0.13 0.15\\ 0.23 0.20\\ -0.20 0.25\\ 0.02 0.30\\ 0.15 0.33\\ -0.10 0.36\\ 0.27 0.40\\ -0.05 0.42\\ 0.08 0.45\\
-0.22 0.50\\ 0.13 0.55\\ -0.08 0.60\\ 0.25 0.62\\ -0.17 0.65\\ 0.05 0.70\\ 0.20 0.75\\ -0.26 0.80\\ 0.10 0.82\\ -0.03 0.85\\
0.17 0.90\\ -0.13 0.95\\ 0.23 1.00\\ -0.20 1.05\\ 0.02 1.10\\ 0.15 1.20\\ -0.10 1.25\\ 0.27 1.40\\ -0.05 1.55\\ 0.08 1.60\\};
\addplot[bpts] table[x expr=\thisrow{j}+2, y=y, row sep=\\] {j y\\
-0.22 -2.02\\ 0.13 -1.95\\ -0.08 -1.80\\ 0.25 -1.70\\ -0.17 -1.55\\ 0.05 -1.45\\ 0.20 -1.40\\ -0.26 -1.38\\ 0.10 -1.35\\ -0.03 -1.30\\
0.17 -1.25\\ -0.13 -1.20\\ 0.23 -1.10\\ -0.20 -0.95\\ 0.02 -0.80\\ 0.15 -0.60\\ -0.10 -0.45\\ 0.27 -0.42\\ -0.05 -0.30\\ 0.08 -0.10\\
-0.22 -0.05\\ 0.13 0.05\\ -0.08 0.10\\ 0.25 0.20\\ -0.17 0.30\\ 0.05 0.35\\ 0.20 0.45\\ -0.26 0.50\\ 0.10 0.55\\ -0.03 0.60\\
0.17 0.75\\ -0.13 0.85\\ 0.23 0.95\\ -0.20 1.05\\ 0.02 1.10\\ 0.15 1.42\\};
\addplot[bpts] table[x expr=\thisrow{j}+3, y=y, row sep=\\] {j y\\ -0.05 -1.30\\ 0.10 -0.68\\ 0.15 -0.20\\};
\end{axis}

% ================= Panel I =================
\begin{axis}[gg, at={(261.7pt,-865pt)}, anchor=south west, width=93.3pt, height=125pt,
  xmin=0.4, xmax=3.6, ymin=-2.32, ymax=1.96, xtick={1,2,3}, xticklabels={CC,TC,TT},
  ytick={-2,-1,0,1}, xmajorgrids, ymajorgrids, yminorgrids, minor y tick num=1]
\addplot[ggbox, draw=gr, boxplot prepared={draw position=1, lower whisker=-2.1, lower quartile=-1.25, median=-0.48, upper quartile=-0.28, upper whisker=1.07}] coordinates {};
\addplot[ggbox, draw=gr, boxplot prepared={draw position=2, lower whisker=-1.9, lower quartile=-0.5, median=-0.08, upper quartile=0.45, upper whisker=1.5}] coordinates {};
\addplot[ggbox, draw=gr, boxplot prepared={draw position=3, lower whisker=-1.42, lower quartile=-0.25, median=0.18, upper quartile=0.65, upper whisker=1.75}] coordinates {};
\addplot[gpts] table[x expr=\thisrow{j}+1, y=y, row sep=\\] {j y\\
-0.22 -2.10\\ 0.13 -1.75\\ -0.08 -1.50\\ 0.25 -1.20\\ -0.17 -1.00\\ 0.05 -0.60\\ 0.20 -0.50\\ -0.26 -0.48\\ 0.10 -0.30\\ -0.03 -0.20\\
0.17 0.10\\ -0.13 0.45\\ 0.02 1.07\\ -0.20 1.10\\};
\addplot[gpts] table[x expr=\thisrow{j}+2, y=y, row sep=\\] {j y\\
-0.22 -2.10\\ 0.13 -1.90\\ -0.08 -1.85\\ 0.25 -1.80\\ -0.17 -1.60\\ 0.05 -1.45\\ 0.20 -1.30\\ -0.26 -1.20\\ 0.10 -1.10\\ -0.03 -1.00\\
0.17 -0.90\\ -0.13 -0.80\\ 0.23 -0.70\\ -0.20 -0.62\\ 0.02 -0.55\\ 0.15 -0.50\\ -0.10 -0.45\\ 0.27 -0.40\\ -0.05 -0.35\\ 0.08 -0.30\\
-0.22 -0.25\\ 0.13 -0.20\\ -0.08 -0.15\\ 0.25 -0.10\\ -0.17 -0.08\\ 0.05 -0.05\\ 0.20 0.00\\ -0.26 0.05\\ 0.10 0.10\\ -0.03 0.15\\
0.17 0.20\\ -0.13 0.25\\ 0.23 0.30\\ -0.20 0.35\\ 0.02 0.40\\ 0.15 0.45\\ -0.10 0.50\\ 0.27 0.55\\ -0.05 0.60\\ 0.08 0.70\\
-0.22 0.80\\ 0.13 0.90\\ -0.08 1.00\\ 0.25 1.10\\ -0.17 1.20\\ 0.05 1.30\\ 0.20 1.40\\ -0.26 1.45\\ 0.10 1.50\\ -0.03 1.52\\};
\addplot[gpts] table[x expr=\thisrow{j}+3, y=y, row sep=\\] {j y\\
-0.22 -1.85\\ 0.13 -1.42\\ -0.08 -1.30\\ 0.25 -1.20\\ -0.17 -1.05\\ 0.05 -0.95\\ 0.20 -0.85\\ -0.26 -0.70\\ 0.10 -0.60\\ -0.03 -0.50\\
0.17 -0.40\\ -0.13 -0.30\\ 0.23 -0.25\\ -0.20 -0.20\\ 0.02 -0.15\\ 0.15 -0.10\\ -0.10 -0.05\\ 0.27 0.00\\ -0.05 0.05\\ 0.08 0.10\\
-0.22 0.15\\ 0.13 0.18\\ -0.08 0.20\\ 0.25 0.25\\ -0.17 0.30\\ 0.05 0.35\\ 0.20 0.40\\ -0.26 0.45\\ 0.10 0.50\\ -0.03 0.55\\
0.17 0.60\\ -0.13 0.65\\ 0.23 0.70\\ -0.20 0.75\\ 0.02 0.80\\ 0.15 0.90\\ -0.10 1.00\\ 0.27 1.10\\ -0.05 1.20\\ 0.08 1.30\\
-0.22 1.40\\ 0.13 1.45\\ -0.08 1.50\\ 0.25 1.60\\ -0.17 1.70\\ 0.05 1.78\\};
\end{axis}
\begin{axis}[gg, at={(359.3pt,-865pt)}, anchor=south west, width=120pt, height=125pt,
  xmin=0.4, xmax=3.6, ymin=-2.9, ymax=2.93, xtick={1,2,3}, xticklabels={CC,TC,TT},
  ytick={-2,-1,0,1,2}, xmajorgrids, ymajorgrids, yminorgrids, minor y tick num=1]
\addplot[ggbox, draw=bl, boxplot prepared={draw position=1, lower whisker=-0.15, lower quartile=-0.03, median=0.6, upper quartile=0.75, upper whisker=1.5}] coordinates {};
\addplot[ggbox, draw=bl, boxplot prepared={draw position=2, lower whisker=-1.6, lower quartile=-0.35, median=0.55, upper quartile=0.88, upper whisker=1.85}] coordinates {};
\addplot[ggbox, draw=bl, boxplot prepared={draw position=3, lower whisker=-2.6, lower quartile=-1.1, median=-0.42, upper quartile=0.22, upper whisker=0.8}] coordinates {};
\addplot[bpts] table[x expr=\thisrow{j}+1, y=y, row sep=\\] {j y\\
-0.22 -0.15\\ 0.13 -0.10\\ -0.08 -0.05\\ 0.25 0.00\\ -0.17 0.40\\ 0.05 0.55\\ 0.20 0.60\\ -0.26 0.62\\ 0.10 0.70\\ -0.03 0.75\\
0.17 0.90\\ -0.13 1.50\\};
\addplot[bpts] table[x expr=\thisrow{j}+2, y=y, row sep=\\] {j y\\
-0.22 -1.60\\ 0.13 -1.45\\ -0.08 -1.30\\ 0.25 -1.05\\ -0.17 -1.00\\ 0.05 -0.90\\ 0.20 -0.75\\ -0.26 -0.55\\ 0.10 -0.40\\ -0.03 -0.35\\
0.17 -0.30\\ -0.13 -0.20\\ 0.23 -0.10\\ -0.20 0.00\\ 0.02 0.10\\ 0.15 0.20\\ -0.10 0.30\\ 0.27 0.40\\ -0.05 0.45\\ 0.08 0.50\\
-0.22 0.55\\ 0.13 0.60\\ -0.08 0.65\\ 0.25 0.70\\ -0.17 0.75\\ 0.05 0.80\\ 0.20 0.85\\ -0.26 0.88\\ 0.10 0.95\\ -0.03 1.05\\
0.17 1.20\\ -0.13 1.40\\ 0.23 1.50\\ -0.20 1.70\\ 0.02 1.80\\ 0.15 1.90\\ -0.10 2.70\\};
\addplot[bpts] table[x expr=\thisrow{j}+3, y=y, row sep=\\] {j y\\
-0.22 -2.62\\ 0.13 -2.58\\ -0.08 -2.50\\ 0.25 -2.20\\ -0.17 -1.80\\ 0.05 -1.60\\ 0.20 -1.45\\ -0.26 -1.30\\ 0.10 -1.20\\ -0.03 -1.15\\
0.17 -1.10\\ -0.13 -1.05\\ 0.23 -0.95\\ -0.20 -0.85\\ 0.02 -0.75\\ 0.15 -0.60\\ -0.10 -0.50\\ 0.27 -0.45\\ -0.05 -0.42\\ 0.08 -0.38\\
-0.22 -0.30\\ 0.13 -0.20\\ -0.08 -0.10\\ 0.25 0.00\\ -0.17 0.05\\ 0.05 0.10\\ 0.20 0.15\\ -0.26 0.20\\ 0.10 0.22\\ -0.03 0.30\\
0.17 0.40\\ -0.13 0.50\\ 0.23 0.60\\ -0.20 0.70\\ 0.02 0.80\\};
\end{axis}

% ================= Panel J =================
\begin{axis}[gg, at={(495pt,-865pt)}, anchor=south west, width=99pt, height=125pt,
  xmin=0.4, xmax=3.6, ymin=-2.25, ymax=2.44, xtick={1,2,3}, xticklabels={CC,TC,TT},
  ytick={-2,-1,0,1,2}, xmajorgrids, ymajorgrids, yminorgrids, minor y tick num=1]
\addplot[ggbox, draw=gr, boxplot prepared={draw position=1, lower whisker=-2.0, lower quartile=-1.15, median=-0.62, upper quartile=-0.48, upper whisker=-0.05}] coordinates {};
\addplot[ggbox, draw=gr, boxplot prepared={draw position=2, lower whisker=-1.95, lower quartile=-0.72, median=-0.08, upper quartile=0.43, upper whisker=1.4}] coordinates {};
\addplot[ggbox, draw=gr, boxplot prepared={draw position=3, lower whisker=-1.55, lower quartile=-0.38, median=0.2, upper quartile=0.88, upper whisker=2.2}] coordinates {};
\addplot[gpts] table[x expr=\thisrow{j}+1, y=y, row sep=\\] {j y\\
-0.22 -2.00\\ 0.13 -1.70\\ -0.08 -1.55\\ 0.25 -1.10\\ -0.17 -0.80\\ 0.05 -0.62\\ 0.20 -0.55\\ -0.26 -0.35\\ 0.10 -0.10\\ -0.03 -0.05\\};
\addplot[gpts] table[x expr=\thisrow{j}+2, y=y, row sep=\\] {j y\\
-0.22 -1.95\\ 0.13 -1.85\\ -0.08 -1.70\\ 0.25 -1.60\\ -0.17 -1.50\\ 0.05 -1.40\\ 0.20 -1.30\\ -0.26 -1.20\\ 0.10 -1.10\\ -0.03 -1.00\\
0.17 -0.90\\ -0.13 -0.80\\ 0.23 -0.75\\ -0.20 -0.70\\ 0.02 -0.60\\ 0.15 -0.50\\ -0.10 -0.45\\ 0.27 -0.40\\ -0.05 -0.30\\ 0.08 -0.25\\
-0.22 -0.20\\ 0.13 -0.10\\ -0.08 -0.08\\ 0.25 -0.05\\ -0.17 0.00\\ 0.05 0.05\\ 0.20 0.10\\ -0.26 0.15\\ 0.10 0.20\\ -0.03 0.25\\
0.17 0.30\\ -0.13 0.35\\ 0.23 0.40\\ -0.20 0.45\\ 0.02 0.50\\ 0.15 0.60\\ -0.10 0.70\\ 0.27 0.80\\ -0.05 0.90\\ 0.08 1.00\\
-0.22 1.10\\ 0.13 1.20\\ -0.08 1.30\\ 0.25 1.40\\};
\addplot[gpts] table[x expr=\thisrow{j}+3, y=y, row sep=\\] {j y\\
-0.22 -1.55\\ 0.13 -1.50\\ -0.08 -1.40\\ 0.25 -1.30\\ -0.17 -1.20\\ 0.05 -1.10\\ 0.20 -1.00\\ -0.26 -0.90\\ 0.10 -0.80\\ -0.03 -0.70\\
0.17 -0.60\\ -0.13 -0.50\\ 0.23 -0.45\\ -0.20 -0.40\\ 0.02 -0.35\\ 0.15 -0.30\\ -0.10 -0.20\\ 0.27 -0.10\\ -0.05 0.00\\ 0.08 0.05\\
-0.22 0.10\\ 0.13 0.15\\ -0.08 0.20\\ 0.25 0.25\\ -0.17 0.30\\ 0.05 0.35\\ 0.20 0.40\\ -0.26 0.50\\ 0.10 0.60\\ -0.03 0.65\\
0.17 0.70\\ -0.13 0.75\\ 0.23 0.80\\ -0.20 0.85\\ 0.02 0.90\\ 0.15 0.95\\ -0.10 1.00\\ 0.27 1.05\\ -0.05 1.10\\ 0.08 1.20\\
-0.22 1.30\\ 0.13 1.40\\ -0.08 1.50\\ 0.25 1.60\\ -0.17 1.70\\ 0.05 1.80\\ 0.20 1.90\\ -0.26 2.00\\ 0.10 2.15\\ -0.03 2.22\\};
\end{axis}
\begin{axis}[gg, at={(599.3pt,-865pt)}, anchor=south west, width=110pt, height=125pt,
  xmin=0.4, xmax=3.6, ymin=-3.13, ymax=2.29, xtick={1,2,3}, xticklabels={CC,TC,TT},
  ytick={-3,-2,-1,0,1,2}, xmajorgrids, ymajorgrids, yminorgrids, minor y tick num=1]
\addplot[ggbox, draw=bl, boxplot prepared={draw position=1, lower whisker=0.2, lower quartile=0.62, median=0.78, upper quartile=1.65, upper whisker=1.95}] coordinates {};
\addplot[ggbox, draw=bl, boxplot prepared={draw position=2, lower whisker=-0.9, lower quartile=-0.33, median=0.1, upper quartile=0.57, upper whisker=1.72}] coordinates {};
\addplot[ggbox, draw=bl, boxplot prepared={draw position=3, lower whisker=-1.7, lower quartile=-0.82, median=-0.3, upper quartile=0.28, upper whisker=1.72}] coordinates {};
\addplot[bpts] table[x expr=\thisrow{j}+1, y=y, row sep=\\] {j y\\
-0.22 0.20\\ 0.13 0.30\\ -0.08 0.65\\ 0.25 0.75\\ -0.17 0.78\\ 0.05 0.80\\ 0.20 1.20\\ -0.26 1.60\\ 0.10 1.70\\ -0.03 1.95\\};
\addplot[bpts] table[x expr=\thisrow{j}+2, y=y, row sep=\\] {j y\\
-0.22 -0.90\\ 0.13 -0.85\\ -0.08 -0.80\\ 0.25 -0.70\\ -0.17 -0.55\\ 0.05 -0.45\\ 0.20 -0.35\\ -0.26 -0.30\\ 0.10 -0.25\\ -0.03 -0.20\\
0.17 -0.10\\ -0.13 -0.05\\ 0.23 0.00\\ -0.20 0.05\\ 0.02 0.10\\ 0.15 0.12\\ -0.10 0.15\\ 0.27 0.20\\ -0.05 0.25\\ 0.08 0.30\\
-0.22 0.35\\ 0.13 0.40\\ -0.08 0.45\\ 0.25 0.50\\ -0.17 0.55\\ 0.05 0.60\\ 0.20 0.70\\ -0.26 0.80\\ 0.10 0.95\\ 0.27 1.40\\
0.23 1.45\\ -0.13 1.72\\};
\addplot[bpts] table[x expr=\thisrow{j}+3, y=y, row sep=\\] {j y\\
-0.22 -2.85\\ 0.13 -2.50\\ -0.08 -1.70\\ 0.25 -1.60\\ -0.17 -1.45\\ 0.05 -1.30\\ 0.20 -1.20\\ -0.26 -1.10\\ 0.10 -1.00\\ -0.03 -0.90\\
0.17 -0.85\\ -0.13 -0.80\\ 0.23 -0.70\\ -0.20 -0.60\\ 0.02 -0.50\\ 0.15 -0.40\\ -0.10 -0.35\\ 0.27 -0.30\\ -0.05 -0.25\\ 0.08 -0.20\\
-0.22 -0.10\\ 0.13 0.00\\ -0.08 0.05\\ 0.25 0.10\\ -0.17 0.15\\ 0.05 0.20\\ 0.20 0.25\\ -0.26 0.30\\ 0.10 0.40\\ -0.03 0.55\\
0.17 0.70\\ -0.13 0.90\\ 0.23 1.00\\ -0.20 1.15\\ 0.02 1.30\\ 0.15 1.45\\ -0.10 2.05\\};
\end{axis}
\end{tikzpicture}
\end{document}
